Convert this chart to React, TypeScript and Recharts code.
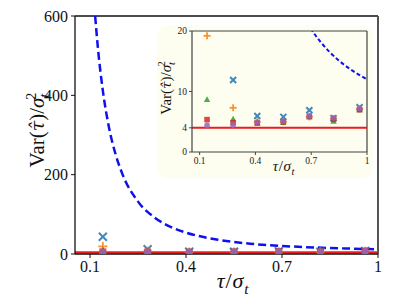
import React from 'react';
import {
  ComposedChart, Line, Scatter, XAxis, YAxis, ReferenceLine, Label,
} from 'recharts';

// tau / sigma_t positions of the simulated points
const tau = [0.14, 0.28, 0.41, 0.55, 0.69, 0.82, 0.96];

// Var(tau_hat) / sigma_t^2 for each estimator
const varCross = [43.6, 11.9, 5.95, 5.8, 6.9, 5.6, 7.4];
const varPlus = [19.2, 7.3, 5.0, 5.0, 5.8, 5.5, 7.1];
const varTriangle = [8.7, 5.45, 4.8, 4.9, 5.8, 5.1, 7.0];
const varSquare = [5.35, 4.85, 4.8, 5.0, 5.9, 5.4, 7.0];
const varCircle = [4.4, 4.45, 4.95, 5.1, 5.9, 5.65, 7.2];

// dashed blue bound
const boundT = [0.116, 0.125, 0.14, 0.16, 0.18, 0.2, 0.25, 0.3, 0.35, 0.4, 0.5, 0.6, 0.7, 0.8, 0.9, 1.0];
const boundV = [600, 516, 412, 316, 251, 204, 132, 93, 69, 54, 36, 26, 20.3, 16.5, 13.9, 12];

// the red lower limit
const floorT = [0.0, 1.05];
const floorV = [4, 4];

const mainXTicks = [0.1, 0.4, 0.7, 1];
const mainYTicks = [0, 200, 400, 600];
const insetXTicks = [0.1, 0.4, 0.7, 1];
const insetYTicks = [0, 4, 10, 20];

const toPoints = (xs: number[], ys: number[]) => xs.map((t, i) => ({ t, v: ys[i] }));

const crossPts = toPoints(tau, varCross);
const plusPts = toPoints(tau, varPlus);
const triPts = toPoints(tau, varTriangle);
const sqPts = toPoints(tau, varSquare);
const circPts = toPoints(tau, varCircle);
const boundPts = toPoints(boundT, boundV);
const floorPts = toPoints(floorT, floorV);

const SERIF = '"Liberation Serif", "DejaVu Serif", serif';
const BLUE = '#1f77b4';
const ORANGE = '#ff7f0e';
const GREEN = '#2ca02c';
const RED = '#d62728';
const PURPLE = '#9467bd';

const makeCross = (r: number) => (p: any) => (
  <g opacity={0.85}>
    <line x1={p.cx - r} y1={p.cy - r} x2={p.cx + r} y2={p.cy + r} stroke={BLUE} strokeWidth={2} />
    <line x1={p.cx - r} y1={p.cy + r} x2={p.cx + r} y2={p.cy - r} stroke={BLUE} strokeWidth={2} />
  </g>
);
const makePlus = (r: number) => (p: any) => (
  <g opacity={0.85}>
    <line x1={p.cx - r} y1={p.cy} x2={p.cx + r} y2={p.cy} stroke={ORANGE} strokeWidth={1.8} />
    <line x1={p.cx} y1={p.cy - r} x2={p.cx} y2={p.cy + r} stroke={ORANGE} strokeWidth={1.8} />
  </g>
);
const makeTri = (r: number) => (p: any) => (
  <polygon
    points={`${p.cx},${p.cy - r} ${p.cx - r},${p.cy + r * 0.8} ${p.cx + r},${p.cy + r * 0.8}`}
    fill={GREEN}
    opacity={0.85}
  />
);
const makeSq = (r: number) => (p: any) => (
  <rect x={p.cx - r} y={p.cy - r} width={2 * r} height={2 * r} fill={RED} opacity={0.85} />
);
const makeCirc = (r: number) => (p: any) => (
  <circle cx={p.cx} cy={p.cy} r={r} fill={PURPLE} opacity={0.85} />
);

const VarLabel = ({ x, y, size }: { x: number; y: number; size: number }) => (
  <text
    transform={`translate(${x},${y}) rotate(-90)`}
    textAnchor="middle"
    fontFamily={SERIF}
    fontSize={size}
    fill="#111"
  >
    Var(<tspan fontStyle="italic" fontFamily='"DejaVu Serif", serif' fontSize={size * 0.9}>τ̂</tspan>)/<tspan fontStyle="italic">σ</tspan>
    <tspan fontStyle="italic" fontSize={size * 0.7} dy={size * 0.25}>t</tspan>
    <tspan fontSize={size * 0.7} dx={-size * 0.3} dy={-size * 0.65}>2</tspan>
  </text>
);

const TauLabel = ({ x, y, size }: { x: number; y: number; size: number }) => (
  <text x={x} y={y} textAnchor="middle" fontFamily={SERIF} fontSize={size} fill="#111" letterSpacing={size * 0.04}>
    <tspan fontStyle="italic">τ</tspan>/<tspan fontStyle="italic">σ</tspan>
    <tspan fontStyle="italic" fontSize={size * 0.7} dy={size * 0.25}>t</tspan>
  </text>
);

const INSET_W = 216;
const INSET_H = 153;

const Inset = () => (
  <div
    style={{
      position: 'absolute',
      left: 157,
      top: 25,
      width: INSET_W,
      height: INSET_H,
      background: '#fdfdf0',
      borderRadius: 12,
    }}
  >
    <ComposedChart
      width={INSET_W}
      height={INSET_H}
      margin={{ top: 6, right: 6, bottom: 8, left: 10 }}
    >
      <XAxis
        type="number"
        dataKey="t"
        domain={[0.059, 1]}
        ticks={insetXTicks}
        allowDataOverflow
        height={18}
        tick={{ fontSize: 9.5, fontFamily: SERIF, fill: '#222' }}
        tickSize={3}
        tickLine={{ stroke: '#444' }}
        axisLine={{ stroke: '#444', strokeWidth: 1.2 }}
        tickMargin={2}
      >
        <Label content={() => <TauLabel x={127} y={146} size={15} />} />
      </XAxis>
      <YAxis
        type="number"
        domain={[0, 20]}
        ticks={insetYTicks}
        allowDataOverflow
        width={25}
        tick={{ fontSize: 9.5, fontFamily: SERIF, fill: '#222' }}
        tickSize={3}
        tickLine={{ stroke: '#444' }}
        axisLine={{ stroke: '#444', strokeWidth: 1.2 }}
        tickMargin={2}
      >
        <Label content={() => <VarLabel x={14} y={63} size={15} />} />
      </YAxis>
      <ReferenceLine y={20} stroke="#444" strokeWidth={1.2} />
      <ReferenceLine x={1} stroke="#444" strokeWidth={1.2} />
      <Line data={floorPts} dataKey="v" stroke="#ee1c1c" strokeWidth={2} dot={false} isAnimationActive={false} />
      <Line
        data={boundPts}
        dataKey="v"
        type="monotone"
        stroke="#1010ee"
        strokeWidth={2}
        strokeDasharray="4 2.5"
        dot={false}
        isAnimationActive={false}
      />
      <Scatter data={crossPts} dataKey="v" shape={makeCross(3)} isAnimationActive={false} />
      <Scatter data={plusPts} dataKey="v" shape={makePlus(3.5)} isAnimationActive={false} />
      <Scatter data={triPts} dataKey="v" shape={makeTri(3.2)} isAnimationActive={false} />
      <Scatter data={sqPts} dataKey="v" shape={makeSq(2.8)} isAnimationActive={false} />
      <Scatter data={circPts} dataKey="v" shape={makeCirc(2.8)} isAnimationActive={false} />
    </ComposedChart>
  </div>
);

export default function App() {
  return (
    <div style={{ position: 'absolute', left: 0, top: 0, width: 395, height: 305, background: '#fff' }}>
      <ComposedChart width={395} height={305} margin={{ top: 16, right: 17, bottom: 21, left: 35 }}>
        <XAxis
          type="number"
          dataKey="t"
          domain={[0.053, 1]}
          ticks={mainXTicks}
          allowDataOverflow
          height={30}
          tick={{ fontSize: 16, fontFamily: SERIF, fill: '#111' }}
          tickSize={4}
          tickLine={{ stroke: '#111' }}
          axisLine={{ stroke: '#111', strokeWidth: 1.3 }}
          tickMargin={3}
        >
          <Label content={() => <TauLabel x={233} y={288} size={22} />} />
        </XAxis>
        <YAxis
          type="number"
          domain={[0, 600]}
          ticks={mainYTicks}
          allowDataOverflow
          width={40}
          tick={{ fontSize: 16, fontFamily: SERIF, fill: '#111' }}
          tickSize={4}
          tickLine={{ stroke: '#111' }}
          axisLine={{ stroke: '#111', strokeWidth: 1.3 }}
          tickMargin={3}
        >
          <Label content={() => <VarLabel x={44} y={130} size={21} />} />
        </YAxis>
        <ReferenceLine y={600} stroke="#111" strokeWidth={1.3} />
        <ReferenceLine x={1} stroke="#555" strokeWidth={2} />
        <Line data={floorPts} dataKey="v" stroke="#ee1c1c" strokeWidth={2.2} dot={false} isAnimationActive={false} />
        <Line
          data={boundPts}
          dataKey="v"
          type="monotone"
          stroke="#1010ee"
          strokeWidth={2.5}
          strokeDasharray="8 4"
          dot={false}
          isAnimationActive={false}
        />
        <Scatter data={crossPts} dataKey="v" shape={makeCross(4)} isAnimationActive={false} />
        <Scatter data={plusPts} dataKey="v" shape={makePlus(4.5)} isAnimationActive={false} />
        <Scatter data={triPts} dataKey="v" shape={makeTri(4)} isAnimationActive={false} />
        <Scatter data={sqPts} dataKey="v" shape={makeSq(3.5)} isAnimationActive={false} />
        <Scatter data={circPts} dataKey="v" shape={makeCirc(3.5)} isAnimationActive={false} />
      </ComposedChart>
      <Inset />
    </div>
  );
}
